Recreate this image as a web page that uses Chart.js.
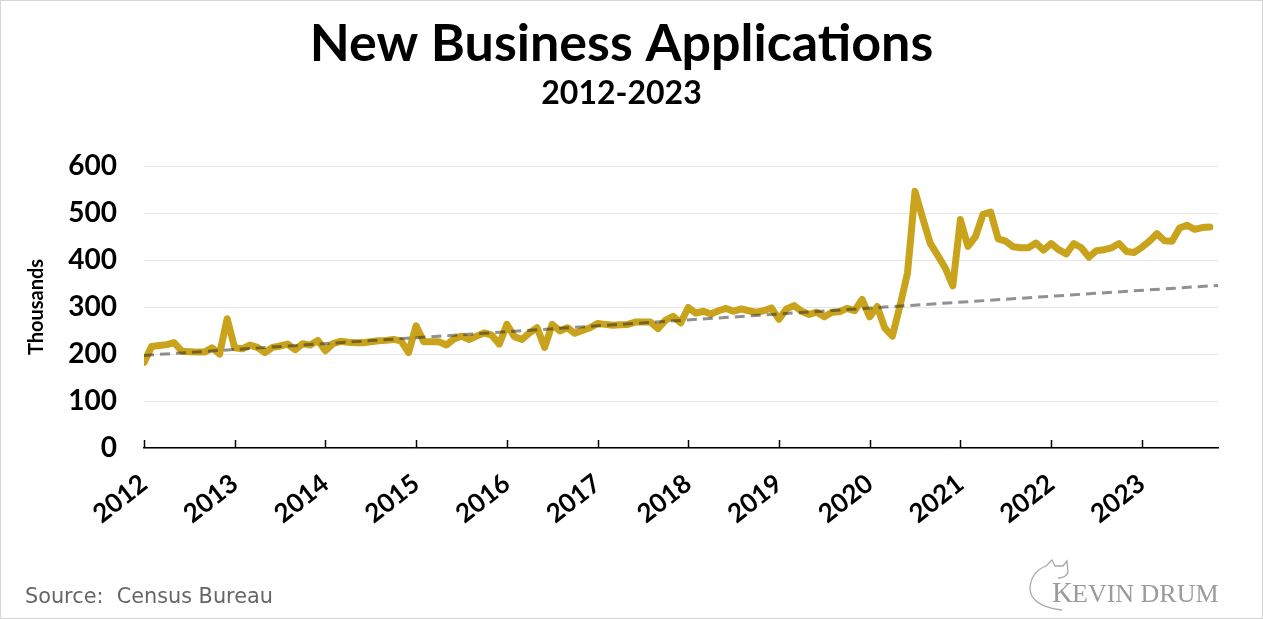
<!DOCTYPE html>
<html>
<head>
<meta charset="utf-8">
<script src="https://cdn.jsdelivr.net/npm/chart.js@4.4.1/dist/chart.umd.min.js"></script>
<style>
  body { margin: 0; background: #fff; }
  #wrap { position: relative; width: 1263px; height: 619px; }
  #frame { position: absolute; left: 0; top: 0; width: 1263px; height: 619px;
           box-sizing: border-box; border: 1px solid #d4d4d4; pointer-events: none; }
</style>
</head>
<body>
<div id="wrap">
  <canvas id="chart" width="1263" height="619"></canvas>
  <div id="frame"></div>
</div>
<script>
// Monthly new business applications (thousands), Jan 2012 onward
const startYear = 2012;
const yearTicks = [2012, 2013, 2014, 2015, 2016, 2017, 2018, 2019, 2020, 2021, 2022, 2023];
const apps2012 = [182, 216, 218, 220, 224, 206, 205, 204, 204, 213, 200, 275];
const apps2013 = [213, 211, 219, 214, 203, 214, 217, 221, 209, 222, 219, 229];
const apps2014 = [207, 222, 227, 225, 224, 224, 226, 228, 229, 231, 228, 203];
const apps2015 = [260, 226, 226, 226, 219, 232, 238, 231, 238, 245, 240, 221];
const apps2016 = [263, 237, 231, 245, 256, 214, 263, 249, 256, 244, 250, 256];
const apps2017 = [265, 263, 261, 262, 263, 268, 268, 268, 254, 272, 280, 266];
const apps2018 = [299, 287, 291, 285, 292, 297, 291, 296, 292, 289, 292, 298];
const apps2019 = [274, 296, 303, 291, 284, 289, 279, 289, 290, 297, 292, 316];
const apps2020 = [279, 301, 255, 238, 302, 372, 546, 490, 436, 410, 383, 345];
const apps2021 = [486, 429, 450, 497, 502, 445, 440, 428, 426, 426, 436, 421];
const apps2022 = [435, 422, 413, 435, 426, 406, 420, 422, 426, 435, 418, 416];
const apps2023 = [427, 440, 456, 441, 440, 468, 474, 465, 469, 470];
const apps = [].concat(apps2012, apps2013, apps2014, apps2015, apps2016, apps2017,
  apps2018, apps2019, apps2020, apps2021, apps2022, apps2023);
// linear trend, start and end of the axis
const trendEnds = [197, 346];
const xMax = 2023.84;

const gold = '#c9a31b';

const appPoints = apps.map((v, i) => ({ x: startYear + i / 12, y: v }));
const trendPoints = [{ x: startYear, y: trendEnds[0] }, { x: xMax, y: trendEnds[1] }];

// small upward tick marks on the x axis + footer text and logo
const extras = {
  id: 'extras',
  afterDraw(chart) {
    const ctx = chart.ctx;
    const xs = chart.scales.x;
    const bottom = chart.chartArea.bottom;
    ctx.save();
    ctx.strokeStyle = '#000';
    ctx.lineWidth = 1.5;
    xs.ticks.forEach(t => {
      const px = Math.round(xs.getPixelForValue(t.value)) + 0.5;
      ctx.beginPath();
      ctx.moveTo(px, bottom);
      ctx.lineTo(px, bottom - 8);
      ctx.stroke();
    });

    ctx.fillStyle = '#666';
    ctx.font = '20.8px "DejaVu Sans"';
    ctx.textBaseline = 'alphabetic';
    ctx.fillText('Source:  Census Bureau', 25, 603);

    // logo
    ctx.fillStyle = '#9b9b9b';
    ctx.font = '29px "Liberation Serif"';
    ctx.fillText('K', 1052, 602);
    ctx.font = '26px "Liberation Serif"';
    ctx.fillText('EVIN DRUM', 1072, 602);
    ctx.strokeStyle = '#a8a8a8';
    ctx.lineWidth = 1.3;
    ctx.beginPath();
    ctx.moveTo(1062, 610);
    ctx.quadraticCurveTo(1030, 606, 1030, 588);
    ctx.quadraticCurveTo(1031, 572, 1046, 566);
    ctx.lineTo(1052, 560);
    ctx.lineTo(1055, 566);
    ctx.lineTo(1063, 566);
    ctx.lineTo(1067, 561);
    ctx.lineTo(1068, 572);
    ctx.quadraticCurveTo(1066, 578, 1058, 578);
    ctx.stroke();
    ctx.restore();
  }
};

new Chart(document.getElementById('chart'), {
  type: 'line',
  data: {
    datasets: [
      {
        label: 'Trend',
        data: trendPoints,
        borderColor: 'rgba(35,35,35,0.5)',
        borderWidth: 3,
        borderDash: [10, 6],
        pointRadius: 0,
        order: 0
      },
      {
        label: 'New business applications',
        data: appPoints,
        borderColor: gold,
        borderWidth: 7,
        borderJoinStyle: 'round',
        borderCapStyle: 'round',
        pointRadius: 0,
        tension: 0,
        order: 1
      }
    ]
  },
  options: {
    responsive: false,
    animation: false,
    events: [],
    layout: { padding: { left: 25, right: 45, top: 0, bottom: 0 } },
    plugins: {
      legend: { display: false },
      tooltip: { enabled: false },
      title: {
        display: true,
        text: 'New Business Applications',
        color: '#000',
        font: { family: 'Lato', size: 52, weight: 'bold', lineHeight: 1.2 },
        padding: { top: 13, bottom: 0 }
      },
      subtitle: {
        display: true,
        text: '2012-2023',
        color: '#000',
        font: { family: 'Lato', size: 32, weight: 'bold', lineHeight: 1 },
        padding: { top: 2, bottom: 56.6 }
      }
    },
    scales: {
      x: {
        type: 'linear',
        min: startYear,
        max: xMax,
        afterBuildTicks: (scale) => { scale.ticks = yearTicks.map(v => ({ value: v })); },
        afterFit: (scale) => { scale.height = 171; },
        grid: { display: false },
        border: { display: true, color: '#000', width: 1.5 },
        ticks: {
          color: '#000',
          font: { family: 'Lato', size: 26, weight: 'bold' },
          minRotation: 38,
          maxRotation: 38,
          padding: 12,
          autoSkip: false,
          callback: (v) => String(v)
        }
      },
      y: {
        min: 0,
        max: 600,
        afterFit: (scale) => { scale.width = 119; },
        grid: { color: '#e6e6e6', lineWidth: 1, drawTicks: false },
        border: { display: false },
        ticks: {
          stepSize: 100,
          color: '#000',
          padding: 27,
          font: { family: 'Lato', size: 28, weight: 'bold' }
        },
        title: {
          display: true,
          text: 'Thousands',
          color: '#000',
          padding: 0,
          font: { family: 'Lato', size: 20, weight: 'bold' }
        }
      }
    }
  },
  plugins: [extras]
});
</script>
</body>
</html>
